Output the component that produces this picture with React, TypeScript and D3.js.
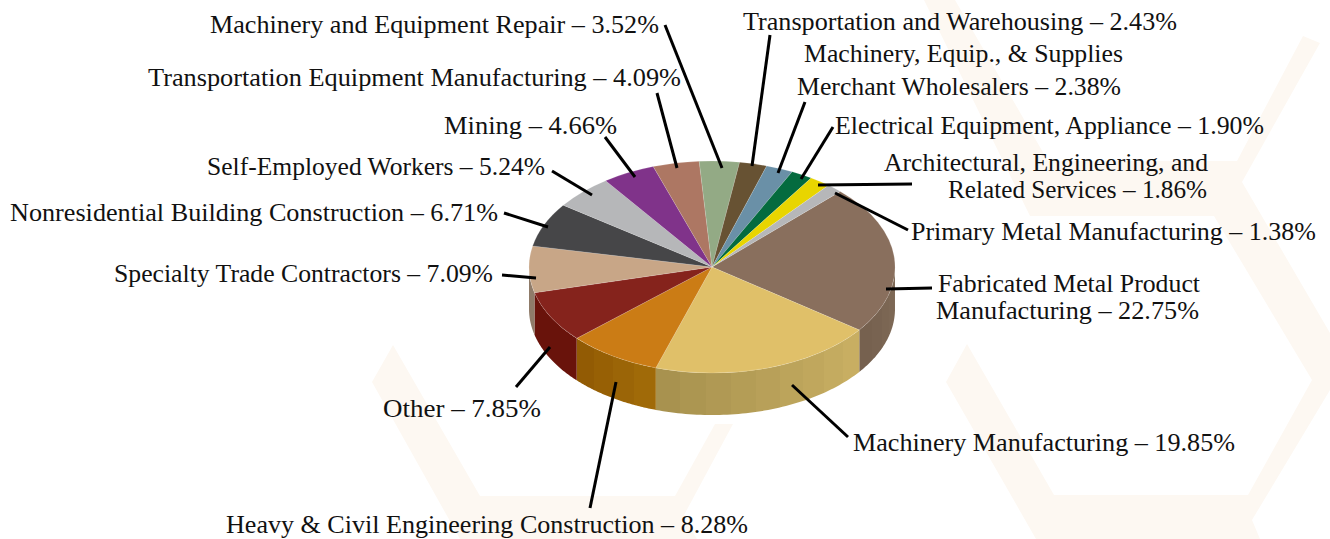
import React from "react";
import * as d3 from "d3";

const W = 1330, H = 539;
const CX = 712, CY = 267, RX = 183, RY = 106, DEPTH = 42;
const START_DEG = 44.5;

// ---- data ----
const categories = [
  "Fabricated Metal Product Manufacturing",
  "Machinery Manufacturing",
  "Heavy & Civil Engineering Construction",
  "Other",
  "Specialty Trade Contractors",
  "Nonresidential Building Construction",
  "Self-Employed Workers",
  "Mining",
  "Transportation Equipment Manufacturing",
  "Machinery and Equipment Repair",
  "Transportation and Warehousing",
  "Machinery, Equip., & Supplies Merchant Wholesalers",
  "Electrical Equipment, Appliance",
  "Architectural, Engineering, and Related Services",
  "Primary Metal Manufacturing",
];
const values = [22.75, 19.85, 8.28, 7.85, 7.09, 6.71, 5.24, 4.66, 4.09, 3.52, 2.43, 2.38, 1.9, 1.86, 1.38];
const topColors = ["#896f5d", "#e0c069", "#cb7c15", "#85231c", "#c8a687", "#464648", "#b6b7b9", "#80338a", "#ad7763", "#93aa85", "#675233", "#6a90a7", "#046b3f", "#e8d500", "#b6b7b9"];
// wall colour at the clockwise start and end of each visible slice
const wallStart = ["#7f6a57", "#c8ae62", "#a06a08", "#69130b", "#8f7b69"];
const wallEnd = ["#76614f", "#a8924f", "#925b04", "#69130b", "#8f7b69"];

// ---- annotation layout (separate from data) ----
type Lab = { t: string; x: number; y: number; w: number };
const labels: Lab[] = [
  { t: "Machinery and Equipment Repair – 3.52%", x: 210, y: 33, w: 449 },
  { t: "Transportation Equipment Manufacturing – 4.09%", x: 148, y: 86, w: 533 },
  { t: "Mining – 4.66%", x: 444, y: 134, w: 173 },
  { t: "Self-Employed Workers – 5.24%", x: 207, y: 175, w: 338 },
  { t: "Nonresidential Building Construction – 6.71%", x: 10, y: 221, w: 488 },
  { t: "Specialty Trade Contractors – 7.09%", x: 114, y: 282, w: 379 },
  { t: "Other – 7.85%", x: 383, y: 417, w: 158 },
  { t: "Heavy & Civil Engineering Construction – 8.28%", x: 226, y: 533, w: 522 },
  { t: "Machinery Manufacturing – 19.85%", x: 853, y: 451, w: 382 },
  { t: "Fabricated Metal Product", x: 938, y: 292, w: 262 },
  { t: "Manufacturing – 22.75%", x: 936, y: 319, w: 263 },
  { t: "Primary Metal Manufacturing – 1.38%", x: 911, y: 240, w: 405 },
  { t: "Architectural, Engineering, and", x: 884, y: 171, w: 324 },
  { t: "Related Services – 1.86%", x: 948, y: 198, w: 259 },
  { t: "Electrical Equipment, Appliance – 1.90%", x: 835, y: 134, w: 429 },
  { t: "Machinery, Equip., & Supplies", x: 804, y: 62, w: 319 },
  { t: "Merchant Wholesalers – 2.38%", x: 797, y: 95, w: 324 },
  { t: "Transportation and Warehousing – 2.43%", x: 743, y: 30, w: 434 },
];
const leaders: [number, number, number, number][] = [
  [665, 25, 722, 168],
  [657, 93, 677, 168],
  [605, 137, 635, 177],
  [552, 171, 592, 195],
  [504, 213, 548, 227],
  [502, 275, 536, 278],
  [516, 387, 550, 347],
  [590, 508, 616, 382],
  [792, 385, 848, 437],
  [886, 289, 932, 288],
  [835, 193, 908, 230],
  [818, 185, 912, 184],
  [801, 179, 833, 127],
  [778, 173, 805, 102],
  [752, 166, 770, 35],
];
const watermark: [number, number][][] = [
  [[393, 345], [480, 496], [675, 496], [715, 424], [733, 424], [683, 517], [697, 539], [460, 539], [372, 382]],
  [[1214, 216], [1312, 380], [1248, 495], [1054, 495], [967, 344], [946, 382], [1036, 539], [1260, 539], [1252, 520], [1330, 390], [1330, 333], [1242, 182], [1320, 43], [1303, 36], [1237, 161], [1048, 161], [955, 0], [924, 0], [1030, 216]],
];

const STEP = Math.PI / 22; // wall band width

export default function App() {
  const toRad = (d: number) => (d * Math.PI) / 180;
  const pie = d3.pie<number>().sort(null).startAngle(toRad(START_DEG)).endAngle(toRad(START_DEG + 360));
  const arcs = pie(values);
  const sx = d3.scaleLinear().domain([-1, 1]).range([CX - RX, CX + RX]);
  const sy = d3.scaleLinear().domain([-1, 1]).range([CY - RY, CY + RY]);
  const arcGen = d3.arc<d3.PieArcDatum<number>>().innerRadius(0).outerRadius(1);
  const ptOn = (a: number, dy: number): [number, number] => [sx(Math.sin(a)), sy(-Math.cos(a)) + dy];
  const line = d3.line();
  const hexPath = d3.line().curve(d3.curveLinearClosed);

  const walls: { d: string; id: string; x1: number; x2: number; stops: { o: number; c: string }[] }[] = [];
  arcs.slice(0, wallStart.length).forEach((s, i) => {
    const a0 = Math.max(s.startAngle, Math.PI / 2);
    const a1 = Math.min(s.endAngle, (3 * Math.PI) / 2);
    if (a1 <= a0) return;
    const n = Math.max(1, Math.ceil((a1 - a0) / STEP));
    const col = d3.interpolateRgb(wallStart[i], wallEnd[i]);
    const samples = d3.range(61).map((q) => a0 + ((a1 - a0) * q) / 60);
    const top = samples.map((a) => ptOn(a, 0));
    const bot = samples.slice().reverse().map((a) => ptOn(a, DEPTH));
    const x1 = ptOn(a0, 0)[0];
    const x2 = ptOn(a1, 0)[0];
    const stops: { o: number; c: string }[] = [];
    d3.range(n).forEach((j) => {
      const c = col(n === 1 ? 0 : j / (n - 1));
      const o0 = (ptOn(a0 + ((a1 - a0) * j) / n, 0)[0] - x1) / (x2 - x1);
      const o1 = (ptOn(a0 + ((a1 - a0) * (j + 1)) / n, 0)[0] - x1) / (x2 - x1);
      stops.push({ o: o0, c }, { o: o1, c });
    });
    walls.push({ d: line([...top, ...bot])! + "Z", id: `wall${i}`, x1, x2, stops });
  });

  return (
    <svg width={W} height={H} viewBox={`0 0 ${W} ${H}`} style={{ position: "absolute", left: 0, top: 0, background: "#fff" }}>
      <defs>
        {walls.map((w) => (
          <linearGradient key={w.id} id={w.id} gradientUnits="userSpaceOnUse" x1={w.x1} x2={w.x2} y1={0} y2={0}>
            {w.stops.map((s, i) => (
              <stop key={i} offset={s.o} stopColor={s.c} />
            ))}
          </linearGradient>
        ))}
      </defs>
      <g fill="#fdf8f2">
        {watermark.map((p, i) => (
          <path key={i} d={hexPath(p)!} />
        ))}
      </g>
      <g>
        {walls.map((w) => (
          <path key={w.id} d={w.d} fill={`url(#${w.id})`} />
        ))}
      </g>
      <g transform={`translate(${CX},${CY}) scale(${RX},${RY})`}>
        {arcs.map((s, i) => (
          <path key={categories[i]} d={arcGen(s)!} fill={topColors[i]} stroke="rgba(255,255,255,0.2)" strokeWidth={0.7} vectorEffect="non-scaling-stroke" />
        ))}
      </g>
      <g stroke="#000" strokeWidth={3}>
        {leaders.map((l, i) => (
          <line key={i} x1={l[0]} y1={l[1]} x2={l[2]} y2={l[3]} />
        ))}
      </g>
      <g fontFamily="'Liberation Serif', serif" fontSize={26} fill="#111">
        {labels.map((l) => (
          <text key={l.t} x={l.x} y={l.y} textLength={l.w} lengthAdjust="spacingAndGlyphs">
            {l.t}
          </text>
        ))}
      </g>
    </svg>
  );
}
